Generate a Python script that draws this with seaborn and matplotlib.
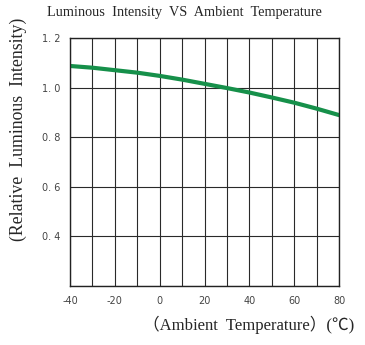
import matplotlib
matplotlib.use("Agg")
import matplotlib.pyplot as plt
import seaborn as sns
import pandas as pd

temperature = [-40, -30, -20, -10, 0, 10, 20, 30, 40, 50, 60, 70, 80]
relative_intensity = [1.087, 1.080, 1.070, 1.060, 1.047, 1.032, 1.015, 0.998, 0.980, 0.960, 0.939, 0.915, 0.889]
x_ticks = [-40, -20, 0, 20, 40, 60, 80]
y_ticks = [0.4, 0.6, 0.8, 1.0, 1.2]
y_tick_labels = ["0. 4", "0. 6", "0. 8", "1. 0", "1. 2"]

sns.set_theme(style="white")
plt.rcParams['font.family'] = ['Liberation Serif', 'Noto Sans CJK SC', 'DejaVu Sans']

df = pd.DataFrame({"temp": temperature, "ri": relative_intensity})

fig = plt.figure(figsize=(3.65, 3.45), dpi=100)
ax = fig.add_axes([0.192, 0.171, 0.737, 0.719])

sns.lineplot(data=df, x="temp", y="ri", ax=ax, color="#16904a", linewidth=3.0)

ax.set_xlim(-40, 80)
ax.set_ylim(0.2, 1.2)
ax.set_xticks(range(-40, 81, 10), minor=False)
ax.set_yticks([0.2, 0.4, 0.6, 0.8, 1.0, 1.2])
ax.grid(True, color="#2a2a2a", linewidth=0.8)
ax.set_axisbelow(True)
ax.set_xticklabels([str(t) if t in x_ticks else "" for t in range(-40, 81, 10)],
                   fontsize=7, color="#444444", family="DejaVu Sans")
ax.set_yticklabels([""] + y_tick_labels, fontsize=7, color="#444444", family="DejaVu Sans")
ax.tick_params(axis="both", length=0, pad=7)
for s in ax.spines.values():
    s.set_color("#222222")
    s.set_linewidth(1.0)

ax.set_xlabel("")
ax.set_ylabel("")
fig.text(0.505, 0.965, "Luminous  Intensity  VS  Ambient  Temperature", ha="center", va="center", fontsize=10.3)
fig.text(0.05, 0.625, "(Relative  Luminous  Intensity)", ha="center", va="center", rotation=90, fontsize=12.8)
fig.text(0.68, 0.058, "（Ambient  Temperature）(℃)", ha="center", va="center", fontsize=12.0)

fig.savefig("out.png", dpi=100)
